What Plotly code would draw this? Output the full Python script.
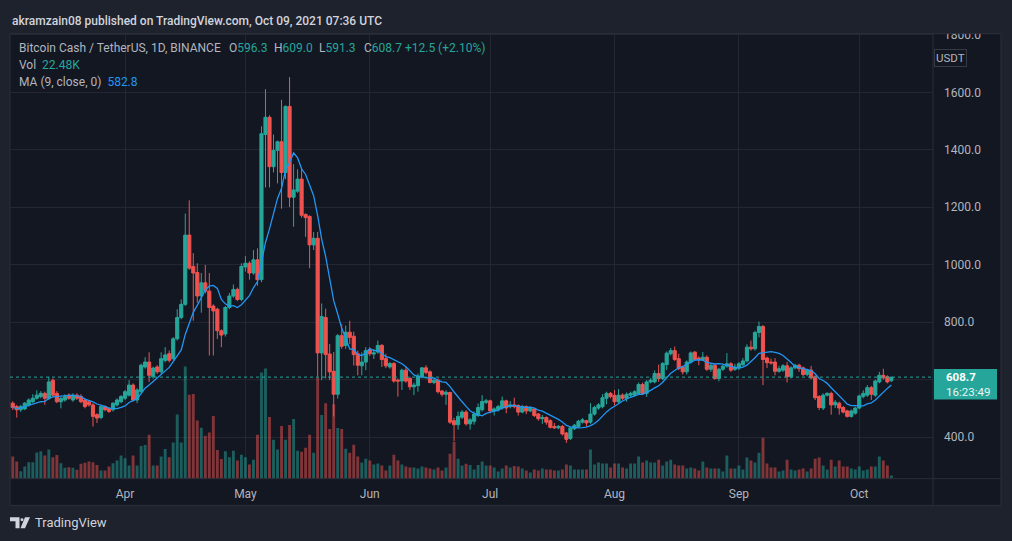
import pandas as pd
import plotly.graph_objects as go

W, H = 1012, 541

# daily candles BCH/USDT, Mar 4 - Oct 9 2021
dates = pd.date_range("2021-03-04", "2021-10-09", freq="D")

opens = [
    518, 506, 495, 498, 512, 523, 535, 541, 552, 535,
    598, 552, 523, 529, 546, 529, 546, 541, 529, 523,
    512, 478, 468, 506, 500, 495, 512, 523, 535, 546,
    581, 529, 558, 644, 661, 610, 644, 627, 667, 690,
    673, 742, 816, 862, 1103, 994, 973, 891, 937, 908,
    856, 845, 770, 759, 851, 891, 914, 879, 992, 1005,
    971, 1017, 948, 1453, 1513, 1341, 1398, 1428, 1321, 1551,
    1235, 1256, 1298, 1175, 1168, 1069, 1092, 693, 816, 689,
    629, 549, 753, 719, 765, 751, 690, 648, 661, 705,
    689, 696, 719, 673, 644, 656, 598, 595, 633, 604,
    575, 579, 610, 641, 627, 590, 598, 560, 549, 555,
    457, 443, 469, 487, 446, 455, 475, 495, 521, 526,
    491, 495, 501, 526, 506, 512, 510, 487, 506, 491,
    498, 480, 464, 468, 457, 437, 432, 437, 414, 395,
    429, 437, 452, 457, 452, 480, 501, 506, 535, 552,
    545, 523, 546, 535, 546, 546, 552, 583, 552, 592,
    592, 621, 604, 652, 690, 701, 673, 644, 627, 661,
    696, 675, 670, 678, 636, 650, 604, 636, 647, 655,
    636, 641, 652, 665, 713, 707, 764, 785, 675, 661,
    661, 629, 633, 648, 610, 641, 650, 641, 618, 633,
    610, 541, 501, 546, 552, 512, 518, 503, 491, 472,
    483, 501, 541, 546, 572, 546, 592, 615, 610, 596.3,
]
closes = [
    503, 495, 506, 518, 529, 535, 546, 552, 535, 592,
    546, 523, 535, 541, 535, 546, 535, 523, 506, 512,
    472, 466, 506, 495, 489, 518, 529, 541, 558, 581,
    529, 564, 650, 661, 615, 640, 627, 673, 686, 667,
    742, 816, 862, 1103, 988, 971, 891, 937, 908, 851,
    839, 770, 755, 851, 891, 914, 879, 994, 1005, 971,
    1017, 948, 1456, 1513, 1341, 1398, 1428, 1321, 1551, 1235,
    1260, 1298, 1172, 1164, 1069, 1092, 693, 820, 687, 627,
    549, 753, 716, 765, 747, 687, 650, 661, 701, 690,
    693, 719, 670, 648, 656, 595, 595, 633, 595, 575,
    581, 613, 641, 625, 590, 598, 558, 549, 556, 452,
    443, 472, 487, 446, 460, 480, 503, 524, 526, 491,
    498, 506, 526, 501, 512, 506, 487, 506, 491, 501,
    475, 464, 468, 452, 434, 432, 437, 411, 392, 432,
    441, 455, 460, 449, 480, 503, 512, 537, 552, 541,
    523, 546, 535, 549, 552, 558, 583, 552, 592, 598,
    621, 604, 656, 692, 701, 670, 638, 627, 661, 693,
    670, 670, 678, 636, 650, 604, 636, 647, 655, 633,
    644, 655, 665, 713, 707, 764, 785, 670, 659, 658,
    629, 638, 648, 610, 641, 650, 638, 618, 633, 606,
    537, 503, 546, 552, 512, 521, 501, 487, 472, 491,
    501, 543, 552, 572, 549, 595, 615, 606, 592, 608.7,
]
highs = [
    524, 512, 512, 522, 535, 549, 563, 560, 558, 610,
    604, 560, 540, 549, 552, 552, 552, 549, 535, 529,
    518, 483, 512, 510, 504, 521, 535, 546, 564, 598,
    587, 570, 656, 678, 695, 645, 650, 695, 713, 701,
    748, 845, 879, 1178, 1224, 1040, 1005, 971, 999, 971,
    862, 850, 775, 856, 902, 931, 920, 1005, 1030, 1012,
    1051, 1057, 1482, 1611, 1520, 1453, 1432, 1574, 1554, 1653,
    1350, 1332, 1338, 1178, 1172, 1114, 1114, 865, 847, 724,
    696, 759, 793, 788, 805, 767, 701, 695, 713, 713,
    707, 736, 724, 690, 661, 661, 604, 638, 644, 610,
    590, 621, 644, 650, 632, 604, 604, 564, 563, 558,
    467, 489, 494, 494, 466, 489, 517, 546, 533, 530,
    503, 512, 541, 530, 525, 537, 514, 512, 510, 506,
    503, 484, 477, 472, 462, 449, 442, 442, 418, 436,
    446, 460, 466, 460, 518, 509, 518, 549, 558, 557,
    564, 567, 552, 555, 558, 563, 590, 590, 598, 606,
    632, 652, 661, 698, 710, 715, 690, 649, 667, 698,
    698, 681, 696, 684, 655, 655, 641, 652, 692, 661,
    655, 661, 675, 723, 736, 770, 802, 790, 680, 673,
    675, 648, 654, 661, 646, 655, 655, 646, 638, 648,
    615, 546, 552, 556, 558, 529, 523, 508, 495, 496,
    506, 548, 563, 581, 578, 600, 627, 638, 615, 609.0,
]
lows = [
    494, 468, 488, 494, 506, 518, 530, 535, 512, 529,
    540, 518, 500, 523, 530, 523, 529, 518, 500, 506,
    437, 449, 462, 490, 484, 489, 506, 518, 529, 541,
    523, 518, 552, 638, 592, 603, 620, 620, 660, 660,
    667, 736, 810, 856, 982, 805, 868, 833, 900, 684,
    684, 741, 713, 750, 845, 885, 873, 873, 976, 948,
    965, 927, 939, 1269, 1269, 1321, 1283, 1195, 1298, 1201,
    1132, 1250, 1164, 1097, 988, 1051, 610, 598, 604, 598,
    472, 534, 707, 707, 724, 649, 615, 615, 633, 683,
    672, 690, 644, 640, 638, 589, 541, 564, 589, 564,
    546, 558, 604, 618, 587, 584, 552, 541, 512, 446,
    386, 426, 463, 440, 426, 443, 470, 489, 515, 483,
    475, 489, 495, 483, 500, 500, 475, 483, 480, 487,
    470, 457, 446, 443, 430, 428, 427, 405, 380, 390,
    424, 432, 447, 437, 446, 475, 495, 500, 514, 535,
    510, 518, 529, 523, 538, 541, 546, 546, 540, 587,
    587, 592, 598, 633, 684, 665, 633, 618, 618, 656,
    665, 650, 665, 630, 627, 600, 594, 630, 641, 627,
    630, 633, 646, 659, 701, 701, 747, 581, 640, 652,
    615, 624, 627, 590, 604, 636, 627, 612, 612, 601,
    529, 494, 494, 541, 478, 501, 478, 482, 468, 468,
    478, 497, 535, 540, 529, 540, 587, 600, 587, 591.3,
]
# volume in thousands
volumes = [
    152, 118, 52, 84, 113, 113, 181, 188, 159, 200,
    147, 163, 107, 75, 79, 75, 61, 102, 109, 118,
    113, 95, 57, 57, 84, 107, 125, 159, 141, 91,
    159, 91, 224, 231, 302, 91, 91, 152, 204, 147,
    249, 442, 249, 771, 578, 583, 401, 351, 295, 317,
    431, 197, 136, 188, 147, 193, 125, 165, 147, 97,
    131, 302, 730, 757, 424, 268, 200, 363, 268, 370,
    410, 193, 186, 213, 302, 179, 696, 438, 519, 342,
    512, 349, 342, 206, 179, 234, 152, 111, 138, 125,
    97, 104, 91, 57, 91, 165, 125, 97, 84, 77,
    77, 70, 84, 77, 70, 63, 77, 57, 77, 172,
    254, 138, 91, 102, 95, 63, 95, 118, 91, 91,
    77, 50, 70, 91, 77, 88, 84, 70, 57, 43,
    63, 57, 70, 63, 63, 57, 57, 63, 97, 91,
    63, 63, 63, 63, 200, 97, 111, 104, 104, 77,
    104, 104, 77, 70, 104, 104, 152, 111, 125, 111,
    111, 131, 91, 118, 131, 97, 91, 91, 70, 77,
    70, 57, 118, 77, 70, 70, 70, 50, 159, 70,
    70, 91, 63, 145, 125, 111, 179, 281, 104, 77,
    77, 50, 57, 131, 63, 57, 63, 70, 50, 70,
    138, 145, 91, 63, 131, 84, 125, 84, 84, 70,
    63, 84, 57, 63, 84, 84, 152, 125, 91, 22.48,
]

# 600.0 is hidden behind the last-price tag, only its grid line shows
price_ticks = [400, 800, 1000, 1200, 1400, 1600, 1800]
hidden_grid = 600
month_ticks = ["2021-04-01", "2021-05-01", "2021-06-01", "2021-07-01",
               "2021-08-01", "2021-09-01", "2021-10-01"]
month_labels = ["Apr", "May", "Jun", "Jul", "Aug", "Sep", "Oct"]

last_price = 608.7

PAGE = "#1e222d"
BG = "#131722"
GRID = "#242733"
BORDER = "#2a2e39"
UP = "#26a69a"
DOWN = "#ef5350"
TXT = "#b2b5be"
FONT = "Roboto, Noto Sans, sans-serif"


def fx(x):
    return x / W


def fy(y):
    return 1 - y / H


df = pd.DataFrame({"date": dates, "open": opens, "high": highs,
                   "low": lows, "close": closes, "volume": volumes})
df["ma9"] = df["close"].rolling(9, min_periods=1).mean()
vol_colors = ["rgba(38,166,154,0.5)" if c >= o else "rgba(239,83,80,0.5)"
              for o, c in zip(df["open"], df["close"])]

fig = go.Figure()

# volume sits on the base axis so the candles draw above it
fig.add_trace(go.Bar(x=df["date"], y=df["volume"], marker_color=vol_colors,
                     marker_line_width=0, width=0.72 * 86400000,
                     yaxis="y", hoverinfo="skip"))

fig.add_trace(go.Candlestick(
    x=df["date"], open=df["open"], high=df["high"], low=df["low"], close=df["close"],
    increasing=dict(line=dict(color=UP, width=1), fillcolor=UP),
    decreasing=dict(line=dict(color=DOWN, width=1), fillcolor=DOWN),
    whiskerwidth=0, yaxis="y2"))

fig.add_trace(go.Scatter(x=df["date"], y=df["ma9"], mode="lines",
                         line=dict(color="#2196f3", width=1.3), yaxis="y2",
                         hoverinfo="skip"))

x_dom = [fx(10), fx(933)]
y_dom = [fy(478), fy(28)]

fig.update_layout(
    width=W, height=H,
    margin=dict(l=0, r=0, t=0, b=0),
    paper_bgcolor=PAGE, plot_bgcolor=BG,
    showlegend=False,
    boxgap=0.22, boxgroupgap=0,
    font=dict(family=FONT, color=TXT, size=12),
    xaxis=dict(domain=x_dom, type="date",
               range=["2021-03-03 07:40", "2021-10-19 09:00"],
               tickvals=month_ticks, ticktext=month_labels,
               showgrid=True, gridcolor=GRID, gridwidth=1,
               zeroline=False, showline=False, ticks="",
               ticklabelstandoff=6,
               tickfont=dict(size=12, color=TXT),
               rangeslider=dict(visible=False)),
    yaxis=dict(domain=y_dom, range=[0, 3060], visible=False,
               showgrid=False, fixedrange=True),
    yaxis2=dict(domain=y_dom, overlaying="y", side="right", anchor="x",
                range=[255.1, 1804.1], tickvals=price_ticks,
                tickformat=".1f", showgrid=True, gridcolor=GRID,
                zeroline=False, showline=False, ticks="",
                ticklabelstandoff=10,
                tickfont=dict(size=12, color=TXT)),
)

shapes = [
    # chart frame
    dict(type="rect", xref="paper", yref="paper", x0=fx(10), x1=fx(1001),
         y0=fy(505), y1=fy(28), fillcolor=BG, line=dict(color=BORDER, width=1),
         layer="below"),
    dict(type="line", xref="paper", yref="y2", x0=fx(10), x1=fx(933),
         y0=hidden_grid, y1=hidden_grid, line=dict(color=GRID, width=1),
         layer="below"),
    # price-scale separator and time-scale separator
    dict(type="line", xref="paper", yref="paper", x0=fx(933), x1=fx(933),
         y0=fy(505), y1=fy(28), line=dict(color=BORDER, width=1)),
    dict(type="line", xref="paper", yref="paper", x0=fx(10), x1=fx(1001),
         y0=fy(478), y1=fy(478), line=dict(color=BORDER, width=1)),
    # last price dotted line
    dict(type="line", xref="paper", yref="y2", x0=fx(10), x1=fx(933),
         y0=last_price, y1=last_price, line=dict(color=UP, width=1, dash="dot")),
    # clip area above the chart frame
    dict(type="rect", xref="paper", yref="paper", x0=0, x1=1, y0=fy(27.5), y1=1,
         fillcolor=PAGE, line=dict(width=0), layer="above"),
    dict(type="line", xref="paper", yref="paper", x0=fx(10), x1=fx(1001),
         y0=fy(28), y1=fy(28), line=dict(color=BORDER, width=1), layer="above"),
    # last price tag
    dict(type="rect", xref="paper", yref="paper", x0=fx(934), x1=fx(997),
         y0=fy(398), y1=fy(367), fillcolor=UP, line=dict(width=0), layer="above"),
    # TradingView logo mark
    dict(type="path", xref="paper", yref="paper",
         path=f"M {fx(10)},{fy(517)} L {fx(19.5)},{fy(517)} L {fx(19.5)},{fy(528)} "
              f"L {fx(15.5)},{fy(528)} L {fx(15.5)},{fy(521)} L {fx(10)},{fy(521)} Z",
         fillcolor="#d1d4dc", line=dict(width=0)),
    dict(type="circle", xref="paper", yref="paper", x0=fx(20.5), x1=fx(23.5),
         y0=fy(521), y1=fy(518), fillcolor="#d1d4dc", line=dict(width=0)),
    dict(type="path", xref="paper", yref="paper",
         path=f"M {fx(25)},{fy(517)} L {fx(30)},{fy(517)} L {fx(25)},{fy(528)} "
              f"L {fx(20.5)},{fy(528)} Z",
         fillcolor="#d1d4dc", line=dict(width=0)),
]
fig.update_layout(shapes=shapes)


def label(x, y, text, color=TXT, size=12, weight="normal", xanchor="left"):
    fig.add_annotation(xref="paper", yref="paper", x=fx(x), y=fy(y), text=text,
                       showarrow=False, xanchor=xanchor, yanchor="middle",
                       font=dict(family=FONT, size=size, color=color, weight=weight))


label(10, 15, "akramzain08 published on TradingView.com, Oct 09, 2021 07:36 UTC",
      color="#d1d4dc", size=12, weight=500)
label(17, 42, "Bitcoin Cash / TetherUS, 1D, BINANCE")
label(227, 42, f"O<span style='color:{UP}'>596.3</span>")
label(272, 42, f"H<span style='color:{UP}'>609.0</span>")
label(317, 42, f"L<span style='color:{UP}'>591.3</span>")
label(362, 42, f"C<span style='color:{UP}'>608.7 +12.5 (+2.10%)</span>")
label(17, 60, f"Vol  <span style='color:{UP}'>22.48K</span>")
label(17, 77, f"MA (9, close, 0)  <span style='color:#2196f3'>582.8</span>")

# price scale extras
fig.add_annotation(xref="paper", yref="paper", x=fx(967), y=fy(43), text="USDT",
                   showarrow=False, font=dict(family=FONT, size=11.5, color=TXT),
                   bordercolor="#363a45", borderwidth=1, borderpad=1,
                   bgcolor=BG)
label(944, 375, "<b>608.7</b>", color="#ffffff", size=11.5)
label(944, 390, "16:23:49", color="#e8f5f3", size=11.5)

label(33, 522, "TradingView", color="#d1d4dc", size=13)

fig.write_html("out.html", config={"displayModeBar": False},
               post_script="document.body.style.margin='0';"
                           "document.body.style.overflow='hidden';")
